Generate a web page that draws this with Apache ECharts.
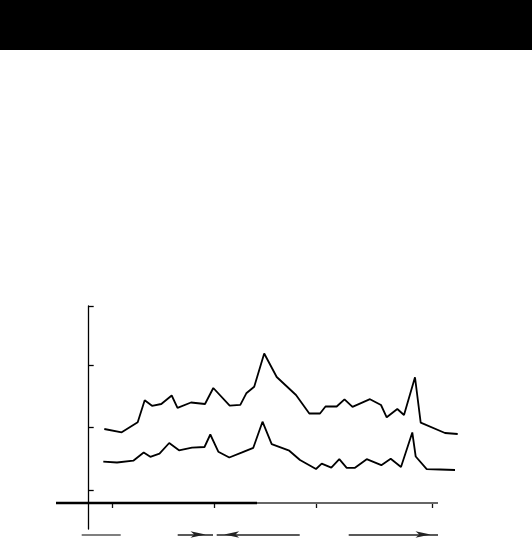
<!DOCTYPE html>
<html>
<head>
<meta charset="utf-8">
<script src="https://cdn.jsdelivr.net/npm/echarts@6/dist/echarts.min.js"></script>
<style>html,body{margin:0;padding:0;background:#fff}#c{width:532px;height:539px}</style>
</head>
<body>
<div id="c"></div>
<script>
// Upper series
const upperX = [15.6, 33, 49, 56, 63.3, 72.6, 83, 88.8, 102.3, 116.3, 124.6, 141, 151.6, 157.6, 165.5, 175.5, 188, 207.3, 220.6, 231.3, 237, 248, 255.8, 263.8, 281.3, 292.3, 298, 308.6, 315.3, 326.3, 332, 356.3, 369];
const upperY = [74, 70.7, 80.7, 102.8, 97.2, 99, 107.5, 95.2, 100.5, 99, 115, 97.3, 98.2, 109.7, 116.3, 149.5, 126, 108, 89.5, 89.5, 96.7, 96.5, 103.7, 96.2, 103.8, 98, 85.7, 94, 88, 125.7, 80.3, 70, 69];
// Lower series
const lowerX = [14.6, 28.3, 44.6, 55, 61.6, 70.8, 80.5, 90.3, 103.3, 115.8, 121.6, 129.6, 140.6, 152.8, 164.6, 173.8, 183, 200.6, 211.3, 227.3, 233, 242.6, 250.6, 258, 266.3, 278, 292.6, 302, 312.3, 323.6, 327, 338, 351.3, 366.3];
const lowerY = [41.3, 40.5, 42.3, 50.5, 46.2, 49.3, 60, 52.7, 55.3, 56, 68.5, 51.3, 45.5, 50.3, 55.2, 81.3, 58.8, 52.3, 43, 34, 39.3, 35.3, 43.8, 35.2, 35.2, 43.8, 37.8, 44.2, 36, 70.5, 46.5, 33.8, 33.5, 33];
// Tick positions
const xTicks = [24, 125.6, 227.3, 343.3];
const yTicks = [13, 76, 138, 197];
// Horizontal axis line extent and the point where its stroke changes
const axisStart = -32.7, axisSplit = 168.3, axisEnd = 349.3;
// Period annotations (start, end, head)
const periodStart = [-7, 89, 211, 260];
const periodEnd = [32, 124.3, 128, 349.3];
const periodHead = ['none', 'end', 'end', 'end'];

const dataMax = 375, yMin = -26, yMax = 197;

function pairs(xs, ys) { return xs.map((x, i) => [x, ys[i]]); }

const arrowData = periodStart.map((s, i) => [
  { coord: [s, 0.5], symbol: 'none' },
  { coord: [periodEnd[i], 0.5], symbol: periodHead[i] === 'end' ? 'arrow' : 'none',
    symbolSize: [5, 15], symbolOffset: [0, 7.5],
    lineStyle: { color: i === 0 ? '#555' : '#222' } }
]);

const chart = echarts.init(document.getElementById('c'), null, { renderer: 'canvas' });
chart.setOption({
  animation: false,
  backgroundColor: '#fff',
  graphic: [{ type: 'rect', left: 0, top: 0, shape: { width: 532, height: 50 }, style: { fill: '#000' } }],
  grid: [
    { left: 56, right: 68.3, top: 306, bottom: 10 },
    { left: 56, right: 68.3, top: 530, height: 9 }
  ],
  xAxis: [
    {
      type: 'value', gridIndex: 0, min: axisStart, max: dataMax,
      axisLine: { show: false, onZero: true },
      axisTick: { show: true, inside: false, length: 5, customValues: xTicks, lineStyle: { color: '#111', width: 1.3 } },
      axisLabel: { show: false },
      splitLine: { show: false }
    },
    { type: 'value', gridIndex: 1, min: axisStart, max: dataMax, show: false }
  ],
  yAxis: [
    {
      type: 'value', gridIndex: 0, min: yMin, max: yMax,
      axisLine: { show: true, onZero: true, lineStyle: { color: '#000', width: 1.3 } },
      axisTick: { show: true, inside: true, length: 5, customValues: yTicks, lineStyle: { color: '#000', width: 1.3 } },
      axisLabel: { show: false },
      splitLine: { show: false }
    },
    { type: 'value', gridIndex: 1, min: 0, max: 1, show: false }
  ],
  series: [
    {
      name: 'axisLine', type: 'line', xAxisIndex: 0, yAxisIndex: 0,
      data: [[axisStart, 0], [axisSplit, 0], [axisEnd, 0]],
      showSymbol: false, symbol: 'none', silent: true, z: 5,
      lineStyle: { color: '#666', width: 1.8 }
    },
    {
      name: 'axisLeft', type: 'line', xAxisIndex: 0, yAxisIndex: 0,
      data: [[axisStart, 0], [axisSplit, 0]],
      showSymbol: false, symbol: 'none', silent: true, z: 6,
      lineStyle: { color: '#000', width: 2.4 }
    },
    {
      type: 'line', xAxisIndex: 0, yAxisIndex: 0, data: pairs(upperX, upperY),
      showSymbol: false, z: 3,
      lineStyle: { color: '#000', width: 1.8 }
    },
    {
      type: 'line', xAxisIndex: 0, yAxisIndex: 0, data: pairs(lowerX, lowerY),
      showSymbol: false, z: 3,
      lineStyle: { color: '#000', width: 1.8 }
    },
    {
      type: 'line', xAxisIndex: 1, yAxisIndex: 1, data: [], clip: false,
      markLine: {
        silent: true, label: { show: false },
        lineStyle: { color: '#222', width: 1.6, type: 'solid' },
        data: arrowData
      }
    }
  ]
});
</script>
</body>
</html>
